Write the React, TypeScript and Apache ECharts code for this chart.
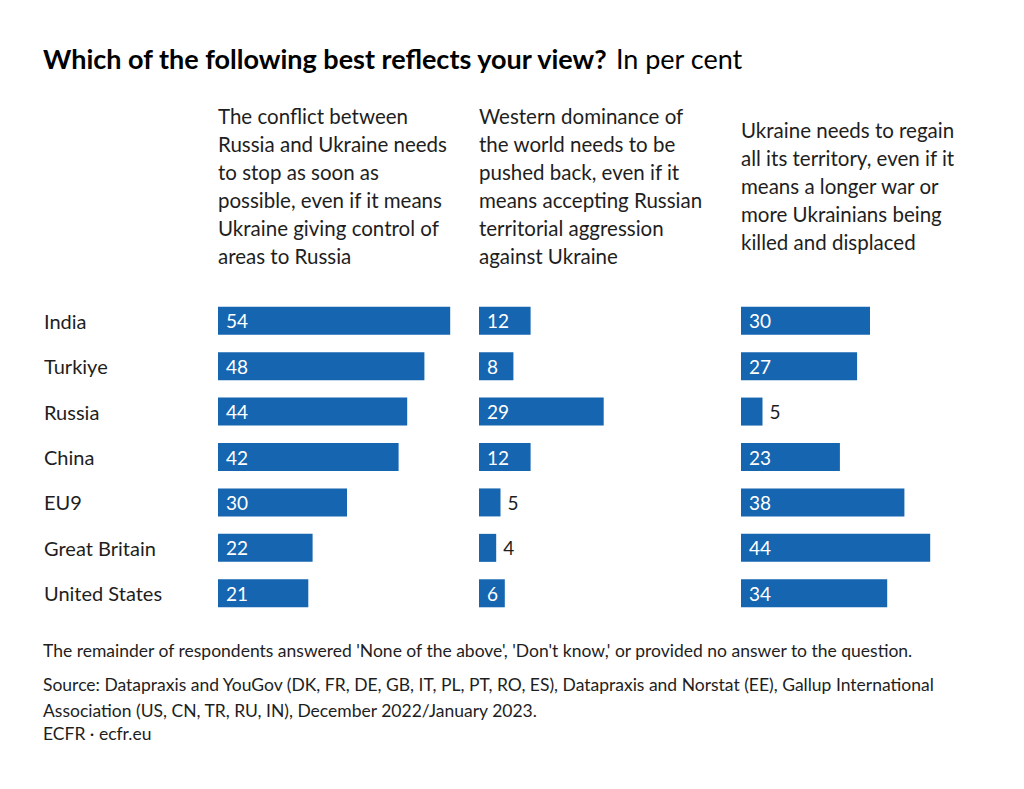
import React, { useEffect, useRef } from "react";
import * as echarts from "echarts";

const countries = ["India", "Turkiye", "Russia", "China", "EU9", "Great Britain", "United States"];
const stopWarSoon = [54, 48, 44, 42, 30, 22, 21];
const pushBackWest = [12, 8, 29, 12, 5, 4, 6];
const regainTerritory = [30, 27, 5, 23, 38, 44, 34];

const headers = [
  ["The conflict between", "Russia and Ukraine needs", "to stop as soon as", "possible, even if it means", "Ukraine giving control of", "areas to Russia"],
  ["Western dominance of", "the world needs to be", "pushed back, even if it", "means accepting Russian", "territorial aggression", "against Ukraine"],
  ["Ukraine needs to regain", "all its territory, even if it", "means a longer war or", "more Ukrainians being", "killed and displaced"],
];

const titleBold = "Which of the following best reflects your view?";
const titleRest = " In per cent";
const noteText = "The remainder of respondents answered 'None of the above', 'Don't know,' or provided no answer to the question.";
const sourceText = "Source: Datapraxis and YouGov (DK, FR, DE, GB, IT, PL, PT, RO, ES), Datapraxis and Norstat (EE), Gallup International\nAssociation (US, CN, TR, RU, IN), December 2022/January 2023.";
const creditText = "ECFR · ecfr.eu";

const FONT = "Lato, 'Noto Sans', sans-serif";
const BLUE = "#1565B0";
const TEXT = "#1e1e1e";

const panelLefts = [218, 479, 741];
const headerTops = [102, 102, 116];

export default function App() {
  const ref = useRef<HTMLDivElement>(null);
  useEffect(() => {
    document.body.style.margin = "0";
    const chart = echarts.init(ref.current!, null, { renderer: "svg" });
    const seriesData = [stopWarSoon, pushBackWest, regainTerritory];
    const grids = panelLefts.map((l) => ({ left: l, top: 298, width: 258, height: 318 }));
    const option: any = {
      animation: false,
      backgroundColor: "#ffffff",
      grid: grids,
      xAxis: grids.map((_, i) => ({ type: "value", gridIndex: i, min: 0, max: 60, show: false })),
      yAxis: grids.map((_, i) => ({
        type: "category",
        gridIndex: i,
        data: countries,
        inverse: true,
        axisLine: { show: false },
        axisTick: { show: false },
        splitLine: { show: false },
        axisLabel: i === 0
          ? { show: true, align: "left", margin: 174, color: TEXT, fontSize: 20, fontFamily: FONT }
          : { show: false },
      })),
      series: seriesData.map((vals, i) => ({
        type: "bar",
        xAxisIndex: i,
        yAxisIndex: i,
        barWidth: 28,
        itemStyle: { color: BLUE },
        data: vals.map((v) => ({
          value: v,
          label: v < 6
            ? { show: true, position: "right", distance: 7, color: TEXT, fontSize: 19, fontFamily: FONT }
            : { show: true, position: "insideLeft", distance: 8, color: "#ffffff", fontSize: 19, fontFamily: FONT },
        })),
      })),
      graphic: [
        {
          type: "text",
          left: 43,
          top: 45,
          style: {
            text: `{b|${titleBold}}{r|${titleRest}}`,
            rich: {
              b: { fontSize: 27, fontWeight: "bold", fontFamily: FONT, fill: "#000" },
              r: { fontSize: 27, fontWeight: "normal", fontFamily: FONT, fill: "#000" },
            },
          },
        },
        ...headers.map((lines, i) => ({
          type: "text",
          left: panelLefts[i],
          top: headerTops[i],
          style: {
            text: lines.join("\n"),
            fontSize: 20.5,
            lineHeight: 28,
            fontFamily: FONT,
            fill: TEXT,
          },
        })),
        {
          type: "text",
          left: 43,
          top: 641,
          style: { text: noteText, fontSize: 17.5, fontFamily: FONT, fill: TEXT },
        },
        {
          type: "text",
          left: 43,
          top: 671,
          style: { text: sourceText, fontSize: 17.5, lineHeight: 26, fontFamily: FONT, fill: TEXT },
        },
        {
          type: "text",
          left: 43,
          top: 724,
          style: { text: creditText, fontSize: 17.5, fontFamily: FONT, fill: TEXT },
        },
      ],
    };
    chart.setOption(option);
    return () => chart.dispose();
  }, []);
  return <div ref={ref} style={{ width: 1024, height: 789 }} />;
}
